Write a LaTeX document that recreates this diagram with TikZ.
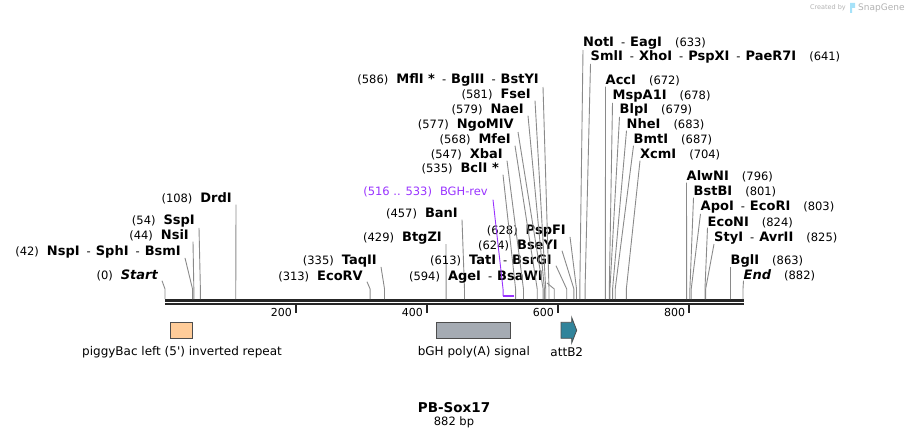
\documentclass[tikz,border=0pt]{standalone}
\usepackage{fontspec}
\setmainfont{DejaVu Sans}
\newfontfamily\lblfont{DejaVu Sans}
\definecolor{cutgray}{HTML}{8A8A8A}
\definecolor{bbgray}{HTML}{262626}
\definecolor{primer}{HTML}{9933FF}
\definecolor{itrpeach}{HTML}{FFCC99}
\definecolor{polyagray}{HTML}{A5ABB3}
\definecolor{attteal}{HTML}{31849B}
\definecolor{featedge}{HTML}{4D4D4D}
\newcommand\enz[1]{{\fontsize{13}{15}\selectfont\bfseries #1}}
\newcommand\cpos[1]{{\fontsize{11.5}{13}\selectfont(#1)}}
\newcommand\sepr{\hspace{7pt}{\fontsize{11.5}{13}\selectfont-}\hspace{5pt}}
\newcommand\lgap{\hspace{8pt}}
\newcommand\rgap{\hspace{13pt}}
\tikzset{
  site/.style={inner sep=0pt},
  cut/.style={cutgray,line width=0.9pt},
  feat/.style={draw=featedge,line width=0.8pt},
  featlab/.style={inner sep=0pt,font=\lblfont\fontsize{12}{14}\selectfont},
}
\begin{document}
\begin{tikzpicture}[x=1pt,y=-1pt]
  \useasboundingbox (0,0) rectangle (909,438);
  % credit line
  \node[inner sep=0pt,anchor=base east,text=black!30,font=\fontsize{6.5}{8}\selectfont] (credit) at (846,10) {Created by};
  \node[inner sep=0pt,anchor=base west,text=black!30,font=\fontsize{9}{10}\selectfont] (snap) at (858,11) {SnapGene};
  \fill[cyan!35] (850,3) rectangle (855,8) (850,8) rectangle (852,13);
  % backbone and ruler
  \draw[bbgray,line width=2.6pt] (165,300.3) -- (743.5,300.3);
  \draw[bbgray,line width=2.6pt] (165,304) -- (743.5,304);
  \foreach \t in {200,400,600,800} {
    \draw[bbgray,line width=1.8pt] ({165+0.6553*\t},305) -- ({165+0.6553*\t},313);
    \node[inner sep=0pt,anchor=base east,font=\fontsize{11}{13}\selectfont] (tk\t) at ({165+0.6553*\t-4},316) {\t};
  }
  % sites labelled to the left
  \foreach \id/\p/\x/\y/\txt in {
    start/0/158/279/{\cpos{0}\lgap\enz{\itshape Start}},
    nsp/42/181/255/{\cpos{42}\lgap\enz{NspI}\sepr\enz{SphI}\sepr\enz{BsmI}},
    nsi/44/189/240/{\cpos{44}\lgap\enz{NsiI}},
    ssp/54/195/225/{\cpos{54}\lgap\enz{SspI}},
    drd/108/232/203/{\cpos{108}\lgap\enz{DrdI}},
    ecorv/313/363/280/{\cpos{313}\lgap\enz{EcoRV}},
    taq/335/377/264/{\cpos{335}\lgap\enz{TaqII}},
    btg/429/442/241/{\cpos{429}\lgap\enz{BtgZI}},
    ban/457/458/218/{\cpos{457}\lgap\enz{BanI}},
    age/594/543/280/{\cpos{594}\lgap\enz{AgeI}\sepr\enz{BsaWI}},
    tat/613/552/264/{\cpos{613}\lgap\enz{TatI}\sepr\enz{BsrGI}},
    bse/624/558/249/{\cpos{624}\lgap\enz{BseYI}},
    psp/628/566/234/{\cpos{628}\lgap\enz{PspFI}},
    bcl/535/499/173/{\cpos{535}\lgap\enz{BclI *}},
    xba/547/503/159/{\cpos{547}\lgap\enz{XbaI}},
    mfe/568/511/144/{\cpos{568}\lgap\enz{MfeI}},
    ngo/577/514/129/{\cpos{577}\lgap\enz{NgoMIV}},
    nae/579/524/114/{\cpos{579}\lgap\enz{NaeI}},
    fse/581/531/99/{\cpos{581}\lgap\enz{FseI}},
    mfl/586/539/84/{\cpos{586}\lgap\enz{MflI *}\sepr\enz{BglII}\sepr\enz{BstYI}}%
  } {
    \node[site,anchor=base east] (\id) at (\x,\y) {\txt};
    \coordinate (\id-c) at ({165+0.6553*\p},299);
    \draw[cut] ([xshift=4pt]\id.south east) -- ([yshift=10pt]\id-c) -- (\id-c);
  }
  % sites labelled to the right
  \foreach \id/\p/\x/\y/\txt in {
    not/633/583/47/{\enz{NotI}\sepr\enz{EagI}\rgap\cpos{633}},
    sml/641/590.5/61/{\enz{SmlI}\sepr\enz{XhoI}\sepr\enz{PspXI}\sepr\enz{PaeR7I}\rgap\cpos{641}},
    acc/672/605.5/85/{\enz{AccI}\rgap\cpos{672}},
    msp/678/612.5/100/{\enz{MspA1I}\rgap\cpos{678}},
    blp/679/619.5/114/{\enz{BlpI}\rgap\cpos{679}},
    nhe/683/626.5/129/{\enz{NheI}\rgap\cpos{683}},
    bmt/687/633.5/144/{\enz{BmtI}\rgap\cpos{687}},
    xcm/704/640/159/{\enz{XcmI}\rgap\cpos{704}},
    alw/796/686.5/181/{\enz{AlwNI}\rgap\cpos{796}},
    bst/801/693.5/196/{\enz{BstBI}\rgap\cpos{801}},
    apo/803/700.5/211/{\enz{ApoI}\sepr\enz{EcoRI}\rgap\cpos{803}},
    econ/824/707.5/226/{\enz{EcoNI}\rgap\cpos{824}},
    sty/825/714/241/{\enz{StyI}\sepr\enz{AvrII}\rgap\cpos{825}},
    bgl/863/730.5/264/{\enz{BglI}\rgap\cpos{863}},
    fin/882/743.5/279/{\enz{\itshape End}\rgap\cpos{882}}%
  } {
    \node[site,anchor=base west] (\id) at (\x,\y) {\txt};
    \coordinate (\id-c) at ({165+0.6553*\p},299);
    \draw[cut] (\id.south west) -- ([yshift=10pt]\id-c) -- (\id-c);
  }
  % primer
  \node[site,anchor=base east,text=primer,font=\fontsize{11.5}{13}\selectfont] (bghrev) at (488,196) {(516 .. 533)\lgap BGH-rev};
  \coordinate (bgh-a) at ({165+0.6553*516},296);
  \coordinate (bgh-b) at ({165+0.6553*533},296);
  \draw[primer,line width=0.9pt] ([xshift=5pt,yshift=-2pt]bghrev.south east) -- ([yshift=6pt]bgh-a) -- (bgh-a);
  \draw[primer,line width=2pt] (bgh-a) -- (bgh-b);
  % features
  \node[feat,fill=itrpeach,minimum width=22pt,minimum height=16pt,inner sep=0pt] (itr) at (181.7,330.3) {};
  \node[feat,fill=polyagray,minimum width=74.5pt,minimum height=16pt,inner sep=0pt] (polya) at (473.3,330.3) {};
  \draw[feat,fill=attteal] (561,322.3) -- (571.7,322.3) -- (571.7,317.5) -- (576.7,330.3)
    -- (571.7,343) -- (571.7,338.3) -- (561,338.3) -- cycle;
  \coordinate (att) at (568.8,330.3);
  \node[featlab] (itr-l) at (182,352) {piggyBac left (5') inverted repeat};
  \node[featlab] (polya-l) at (473.8,352) {bGH poly(A) signal};
  \node[featlab] (att-l) at (566.8,352) {attB2};
  % name and length
  \node[inner sep=0pt,font=\bfseries\fontsize{13.5}{16}\selectfont] (title) at (454,407.5) {PB-Sox17};
  \node[inner sep=0pt,font=\fontsize{11.5}{13}\selectfont] (len) at (454,422.5) {882 bp};
\end{tikzpicture}
\end{document}
